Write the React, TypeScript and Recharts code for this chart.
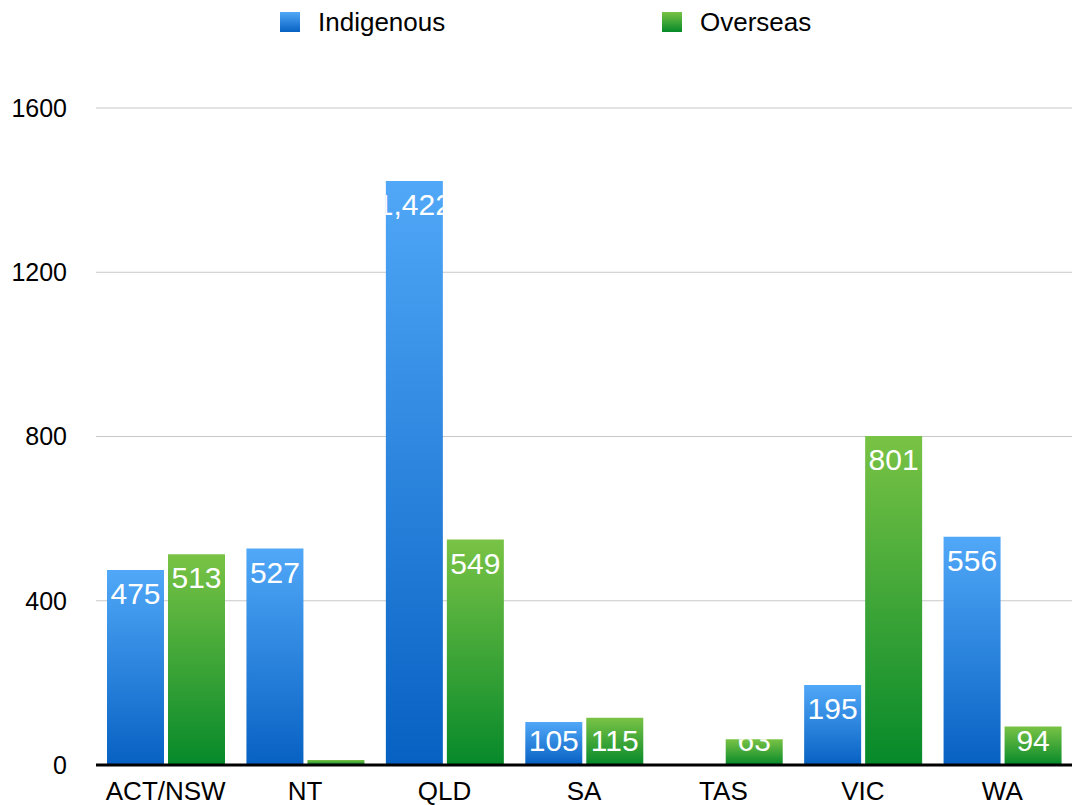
import React from 'react';
import { BarChart, Bar, XAxis, YAxis, CartesianGrid, LabelList } from 'recharts';

// ── Data ───────────────────────────────────────────────────────────────────

const STATES = ['ACT/NSW', 'NT', 'QLD', 'SA', 'TAS', 'VIC', 'WA'];
const INDIGENOUS = [475, 527, 1422, 105, 0, 195, 556];
const OVERSEAS = [513, 12, 549, 115, 63, 801, 94];
const Y_TICKS = [0, 400, 800, 1200, 1600];

const SERIES = [
  { key: 'indigenous', name: 'Indigenous', top: '#51A8F8', bottom: '#0761C2' },
  { key: 'overseas', name: 'Overseas', top: '#79C345', bottom: '#06892A' },
];

const data = STATES.map((state, i) => ({
  state,
  indigenous: INDIGENOUS[i],
  overseas: OVERSEAS[i],
}));

const FONT = "'Liberation Sans', Arial, Helvetica, sans-serif";

// ── Value label, clipped to its own bar ────────────────────────────────────

function BarValue(props: any) {
  const { x, y, width, height, value, index, sid } = props;
  const h = Number(height) || 0;
  if (h <= 0) return null;
  const clipId = `clip-${sid}-${index}`;
  const base = Math.min(y + 34, y + h - 14);
  return (
    <g>
      <defs>
        <clipPath id={clipId}>
          <rect x={x} y={y} width={width} height={h} />
        </clipPath>
      </defs>
      <text
        x={x + width / 2}
        y={base}
        textAnchor="middle"
        fill="#FFFFFF"
        fontSize={30}
        fontFamily={FONT}
        clipPath={`url(#${clipId})`}
      >
        {Number(value).toLocaleString('en-US')}
      </text>
    </g>
  );
}

// ── Legend (top, centered pairs) ───────────────────────────────────────────

const LEGEND_X = [280, 662];

function TopLegend() {
  return (
    <>
      {SERIES.map((s, i) => (
        <div
          key={s.key}
          style={{
            position: 'absolute',
            left: LEGEND_X[i],
            top: 12,
            display: 'flex',
            alignItems: 'center',
            gap: 18,
            fontFamily: FONT,
            fontSize: 26,
            color: '#000',
            lineHeight: '20px',
          }}
        >
          <span
            style={{
              width: 20,
              height: 20,
              display: 'inline-block',
              background: `linear-gradient(${s.top}, ${s.bottom})`,
            }}
          />
          <span>{s.name}</span>
        </div>
      ))}
    </>
  );
}

export default function App() {
  return (
    <div style={{ position: 'absolute', left: 0, top: 0, width: 1072, height: 805, background: '#fff', fontFamily: FONT }}>
      <TopLegend />
      <BarChart
        width={1072}
        height={805}
        data={data}
        margin={{ top: 108, right: 0, bottom: 10, left: 0 }}
        barSize={57}
        barGap={4}
        style={{ fontFamily: FONT }}
      >
        <defs>
          {SERIES.map((s) => (
            <linearGradient key={s.key} id={`grad-${s.key}`} x1="0" y1="0" x2="0" y2="1">
              <stop offset="0%" stopColor={s.top} />
              <stop offset="100%" stopColor={s.bottom} />
            </linearGradient>
          ))}
        </defs>
        <CartesianGrid stroke="#C8C8C8" vertical={false} />
        <XAxis
          dataKey="state"
          axisLine={{ stroke: '#000', strokeWidth: 3 }}
          tickLine={false}
          tickSize={0}
          tickMargin={17}
          height={30}
          tick={{ fill: '#000', fontSize: 26 }}
          interval={0}
        />
        <YAxis
          domain={[0, 1600]}
          ticks={Y_TICKS}
          width={96}
          axisLine={false}
          tickLine={false}
          tickSize={0}
          tickMargin={29}
          tick={{ fill: '#000', fontSize: 25 }}
        />
        {SERIES.map((s) => (
          <Bar
            key={s.key}
            dataKey={s.key}
            name={s.name}
            fill={`url(#grad-${s.key})`}
            isAnimationActive={false}
          >
            <LabelList dataKey={s.key} content={(p: any) => <BarValue {...p} sid={s.key} />} />
          </Bar>
        ))}
      </BarChart>
    </div>
  );
}
